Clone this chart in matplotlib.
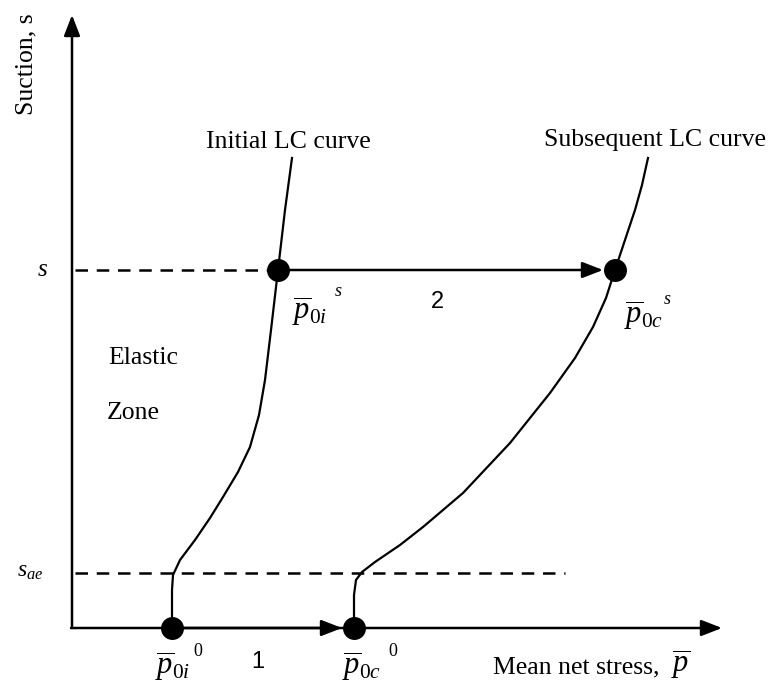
import matplotlib.pyplot as plt

plt.rcParams["mathtext.fontset"] = "custom"
plt.rcParams["mathtext.rm"] = "Liberation Serif"
plt.rcParams["mathtext.it"] = "Liberation Serif:italic"
plt.rcParams["font.family"] = ["Liberation Serif", "DejaVu Serif"]

# schematic coordinates (image-like units, y grows downward)
ORIGIN = (72, 628)
X_END = 722
Y_END = 15
S_LEVEL = 270
SAE_LEVEL = 573
SAE_END = 565

# initial LC curve (bottom -> top)
init_x = [172, 172, 173, 180, 195, 210, 223, 238, 250, 259, 265, 271, 278, 285, 292]
init_y = [628, 590, 575, 560, 540, 518, 497, 472, 447, 415, 380, 330, 270, 210, 158]

# subsequent LC curve (bottom -> top)
subs_x = [354, 354, 356, 362, 375, 400, 423, 463, 510, 550, 575, 593, 606, 615, 625, 635, 642, 648]
subs_y = [628, 595, 580, 572, 562, 545, 527, 493, 443, 393, 358, 327, 298, 270, 240, 210, 185, 158]

# yield points
pts_x = [278, 615, 172, 354]
pts_y = [270, 270, 628, 628]

fig = plt.figure(figsize=(7.71, 6.88), dpi=100)
ax = fig.add_axes([0, 0, 1, 1])
ax.set_xlim(0, 771)
ax.set_ylim(688, 0)
ax.axis("off")

arrow = dict(arrowstyle="-|>,head_length=0.9,head_width=0.35", color="black",
             lw=1.8, shrinkA=0, shrinkB=0, mutation_scale=14)

# axes
ax.annotate("", xy=(ORIGIN[0], Y_END), xytext=(ORIGIN[0], ORIGIN[1]), arrowprops=arrow)
ax.annotate("", xy=(X_END, ORIGIN[1]), xytext=(ORIGIN[0] - 1, ORIGIN[1]), arrowprops=arrow)

# dashed suction levels
ax.plot([ORIGIN[0] + 3, pts_x[0]], [S_LEVEL, S_LEVEL], color="black", lw=1.8,
        dashes=(5, 3.5))
ax.plot([ORIGIN[0] + 3, SAE_END], [SAE_LEVEL, SAE_LEVEL], color="black", lw=1.8,
        dashes=(5, 3.5))

# LC curves
ax.plot(init_x, init_y, color="black", lw=1.6)
ax.plot(subs_x, subs_y, color="black", lw=1.6)

# stress paths
ax.annotate("", xy=(pts_x[1] - 12, S_LEVEL), xytext=(pts_x[0], S_LEVEL), arrowprops=arrow)
ax.annotate("", xy=(pts_x[3] - 12, ORIGIN[1]), xytext=(pts_x[2], ORIGIN[1]), arrowprops=arrow)

ax.plot(pts_x, pts_y, "o", color="black", markersize=15.5, zorder=5)

# text
ax.text(26, 64, "Suction, s", rotation=90, ha="center", va="center", fontsize=18.5)
ax.text(288, 142, "Initial LC curve", ha="center", va="center", fontsize=18.5)
ax.text(655, 140, "Subsequent LC curve", ha="center", va="center", fontsize=18.5)
ax.text(108, 358, "Elastic", ha="left", va="center", fontsize=18.5)
ax.text(107, 413, "Zone", ha="left", va="center", fontsize=18.5)
ax.text(42, 270, "$s$", ha="center", va="center", fontsize=18)
ax.text(30, 572, "$s_{ae}$", ha="center", va="center", fontsize=17)

ax.text(437, 302, "2", ha="center", va="center", fontsize=17, family="Liberation Sans")
ax.text(258, 662, "1", ha="center", va="center", fontsize=17, family="Liberation Sans")

ax.text(292, 312, r"$\overline{p}_{0i}$", ha="left", va="center", fontsize=22)
ax.text(338, 292, "$s$", ha="center", va="center", fontsize=13)
ax.text(624, 316, r"$\overline{p}_{0c}$", ha="left", va="center", fontsize=22)
ax.text(667, 299, "$s$", ha="center", va="center", fontsize=13)
ax.text(155, 667, r"$\overline{p}_{0i}$", ha="left", va="center", fontsize=22)
ax.text(198, 651, "0", ha="center", va="center", fontsize=13)
ax.text(342, 667, r"$\overline{p}_{0c}$", ha="left", va="center", fontsize=22)
ax.text(393, 651, "0", ha="center", va="center", fontsize=13)

ax.text(493, 667, "Mean net stress,", ha="left", va="center", fontsize=18.5)
ax.text(671, 665, r"$\overline{p}$", ha="left", va="center", fontsize=22)

fig.savefig("out.png", dpi=100)
